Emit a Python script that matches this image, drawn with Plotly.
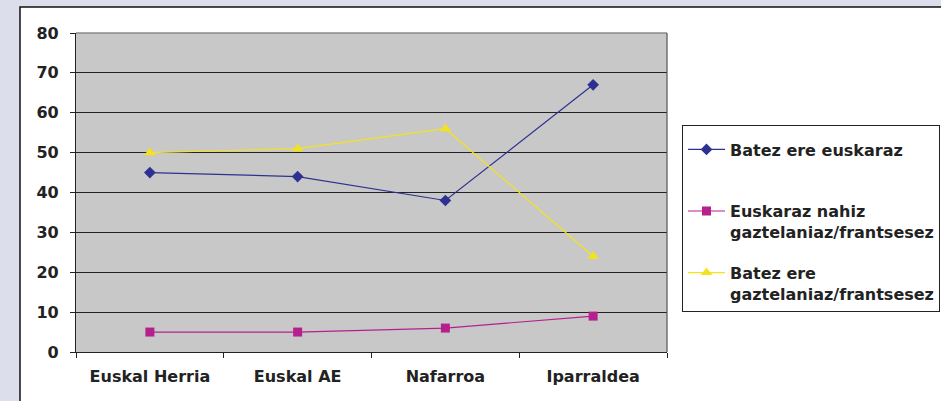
import plotly.graph_objects as go

categories = ["Euskal Herria", "Euskal AE", "Nafarroa", "Iparraldea"]
batez_ere_euskaraz = [45, 44, 38, 67]
euskaraz_nahiz = [5, 5, 6, 9]
batez_ere_gazt = [50, 51, 56, 24]
series_names = [
    "Batez ere euskaraz<br> ",
    "Euskaraz nahiz<br>gaztelaniaz/frantsesez",
    "Batez ere<br>gaztelaniaz/frantsesez",
]
y_ticks = [0, 10, 20, 30, 40, 50, 60, 70, 80]

W, H = 941, 401
L, R, T, B = 76, 667, 33, 352
pw, ph = R - L, B - T

def px_x(p):
    return (p - L) / pw

def px_y(p):
    return (B - p) / ph

tf = dict(family="DejaVu Sans", size=16, color="#222222", weight="bold")

fig = go.Figure()
styles = [
    dict(color="#2E3192", symbol="diamond", size=9),
    dict(color="#B5208E", symbol="square", size=9),
    dict(color="#F5E31A", symbol="triangle-up", size=10),
]
for i, (name, vals) in enumerate(zip(series_names, [batez_ere_euskaraz, euskaraz_nahiz, batez_ere_gazt])):
    st = styles[i]
    fig.add_trace(go.Scatter(
        x=categories, y=vals, name=name, mode="lines+markers",
        line=dict(color=st["color"], width=1.2),
        marker=dict(color=st["color"], symbol=st["symbol"], size=st["size"], line=dict(width=0)),
        legendgroup=str(i),
    ))

fig.update_layout(
    width=W, height=H,
    margin=dict(l=L, r=W - R, t=T, b=H - B, pad=0, autoexpand=False),
    paper_bgcolor="#DCDEEC",
    plot_bgcolor="#C8C8C8",
    font=tf,
    showlegend=True,
    legend=dict(
        x=px_x(682), y=px_y(125), xanchor="left", yanchor="top",
        bgcolor="white", bordercolor="#222222", borderwidth=1,
        font=tf,
        title=dict(text=" ", font=dict(size=5)),
        valign="top", tracegroupgap=17, itemwidth=37,
    ),
    shapes=[
        dict(type="rect", xref="paper", yref="paper", layer="below",
             x0=px_x(20), x1=px_x(945), y0=px_y(7), y1=px_y(410),
             fillcolor="white", line=dict(color="#111111", width=1.5)),
        dict(type="rect", xref="paper", yref="paper", layer="below",
             x0=0, x1=1, y0=0, y1=1,
             fillcolor="#C8C8C8", line=dict(width=0)),
        dict(type="line", xref="paper", yref="paper", layer="above",
             x0=0, x1=1, y0=1, y1=1, line=dict(color="#8A8A8A", width=1.5)),
        dict(type="line", xref="paper", yref="paper", layer="above",
             x0=1, x1=1, y0=0, y1=1, line=dict(color="#555555", width=1.2)),
    ],
)
fig.update_xaxes(
    type="category", tickson="boundaries", ticks="outside", ticklen=5,
    tickcolor="#222222", showline=True, linecolor="#222222", linewidth=1.2,
    showgrid=False, tickfont=tf,
    ticklabelstandoff=10, range=[-0.5, 3.5],
)
fig.update_yaxes(
    range=[0, 80], tickvals=y_ticks, ticks="outside", ticklen=5,
    tickcolor="#222222", showline=True, linecolor="#222222", linewidth=1.2,
    showgrid=True, gridcolor="#222222", gridwidth=1, zeroline=False,
    tickfont=tf,
    ticklabelstandoff=8,
)
fig.write_html(
    "out.html",
    config={"displayModeBar": False},
    post_script="document.body.style.margin='0';document.body.style.overflow='hidden';",
)
